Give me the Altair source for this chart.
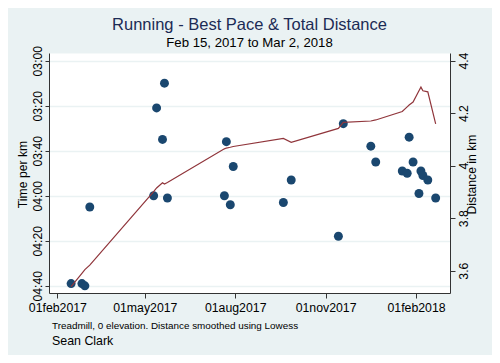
import altair as alt
import pandas as pd

# ---- data ----
dates = ["2017-02-15", "2017-02-26", "2017-03-01", "2017-03-06", "2017-05-10",
         "2017-05-13", "2017-05-19", "2017-05-21", "2017-05-24", "2017-07-21",
         "2017-07-23", "2017-07-27", "2017-07-30", "2017-09-19", "2017-09-27",
         "2017-11-14", "2017-11-19", "2017-12-17", "2017-12-22", "2018-01-18",
         "2018-01-23", "2018-01-25", "2018-01-29", "2018-02-04", "2018-02-06",
         "2018-02-08", "2018-02-13", "2018-02-21"]
pace = ["04:39", "04:39", "04:40", "04:05", "04:00",
        "03:21", "03:35", "03:10", "04:01", "04:00",
        "03:36", "04:04", "03:47", "04:03", "03:53",
        "04:18", "03:28", "03:38", "03:45", "03:49",
        "03:50", "03:34", "03:45", "03:59", "03:49",
        "03:51", "03:53", "04:01"]
distance_smoothed = [3.539, 3.590, 3.604, 3.621, 3.901,
                     3.915, 3.935, 3.930, 3.936, 4.064,
                     4.067, 4.070, 4.073, 4.104, 4.089,
                     4.142, 4.165, 4.170, 4.174, 4.206,
                     4.224, 4.231, 4.242, 4.285, 4.299,
                     4.285, 4.281, 4.159]
x_ticks = [(2017, 2), (2017, 5), (2017, 8), (2017, 11), (2018, 2)]
pace_ticks = [180, 200, 220, 240, 260, 280]
dist_ticks = [3.6, 3.8, 4.0, 4.2, 4.4]
footnote = "Treadmill, 0 elevation. Distance smoothed using Lowess"
author = "Sean Clark"


def to_sec(s):
    m, ss = s.split(":")
    return int(m) * 60 + int(ss)


df = pd.DataFrame({"date": dates,
                   "pace": [to_sec(p) for p in pace],
                   "dist": distance_smoothed})

FONT = "Liberation Sans"
BG = "#eaf2f3"
AXC = "#333333"

x_enc = alt.X(
    "date:T",
    scale=alt.Scale(type="utc", domain=[
        alt.DateTime(year=2017, month=1, date=23, hours=12, utc=True),
        alt.DateTime(year=2018, month=3, date=7, hours=14, utc=True)]),
    axis=alt.Axis(
        title=None, grid=False,
        values=[alt.DateTime(year=y, month=m, date=1, utc=True) for y, m in x_ticks],
        labelExpr="lower(utcFormat(datum.value, '%d%b%Y'))",
        labelFont=FONT, labelFontSize=12.3, labelColor="black",
        domainColor=AXC, tickColor=AXC, tickSize=5, labelPadding=3,
        labelFlush=False, labelOverlap=False),
)

points = alt.Chart(df).mark_circle(size=80, opacity=1, color="#1a476f").encode(
    x=x_enc,
    y=alt.Y("pace:Q",
            scale=alt.Scale(domain=[176.6, 283.2], reverse=True, nice=False, zero=False),
            axis=alt.Axis(
                orient="left", values=pace_ticks, title="Time per km",
                labelExpr="'0' + floor(datum.value/60) + ':' + (datum.value % 60 < 10 ? '0' : '') + (datum.value % 60)",
                labelAngle=270, labelAlign="center", labelBaseline="middle",
                labelPadding=8, tickSize=4,
                labelFont=FONT, labelFontSize=12.2, labelColor="black",
                titleFont=FONT, titleFontSize=12.2, titleFontWeight="normal", titleColor="black",
                titleAngle=270, titleAlign="center", titleBaseline="middle",
                titleX=-27, titleY=121,
                grid=True, gridColor=BG, gridWidth=1.3,
                domainColor=AXC, tickColor=AXC, labelFlush=False)),
)

line = alt.Chart(df).mark_line(color="#90353b", strokeWidth=1.2).encode(
    x=x_enc,
    y=alt.Y("dist:Q",
            scale=alt.Scale(domain=[3.515, 4.429], nice=False, zero=False),
            axis=alt.Axis(
                orient="right", values=dist_ticks, title="Distance in km", format="~g",
                labelAngle=270, labelAlign="center", labelBaseline="middle",
                labelPadding=8, tickSize=5,
                labelFont=FONT, labelFontSize=12.2, labelColor="black",
                titleFont=FONT, titleFontSize=12.2, titleFontWeight="normal", titleColor="black",
                titleAngle=270, titleAlign="center", titleBaseline="middle",
                titleX=21, titleY=121,
                grid=False, domainColor=AXC, tickColor=AXC, labelFlush=False)),
)

note1 = alt.Chart(pd.DataFrame({"t": [footnote]})).mark_text(
    align="left", baseline="middle", font=FONT, fontSize=9.9, color="black"
).encode(text="t:N", x=alt.value(3), y=alt.value(272.5))

note2 = alt.Chart(pd.DataFrame({"t": [author]})).mark_text(
    align="left", baseline="middle", font=FONT, fontSize=12.4, color="black"
).encode(text="t:N", x=alt.value(3), y=alt.value(288))

chart = alt.layer(points, line, note1, note2).resolve_scale(y="independent").properties(
    width=401, height=240,
    background=BG,
    autosize=alt.AutoSizeParams(type="none"),
    padding={"left": 41, "top": 45, "right": 42, "bottom": 62},
    title=alt.TitleParams(
        text="Running - Best Pace & Total Distance",
        subtitle="Feb 15, 2017 to Mar 2, 2018",
        font=FONT, fontSize=16.5, fontWeight="normal", color="#1c2b55",
        subtitleFont=FONT, subtitleFontSize=13.2, subtitleColor="black",
        anchor="middle", offset=-4, subtitlePadding=4),
).configure_view(fill="white", stroke="transparent")

chart.save("out.html", embed_options={"renderer": "svg", "actions": False})
